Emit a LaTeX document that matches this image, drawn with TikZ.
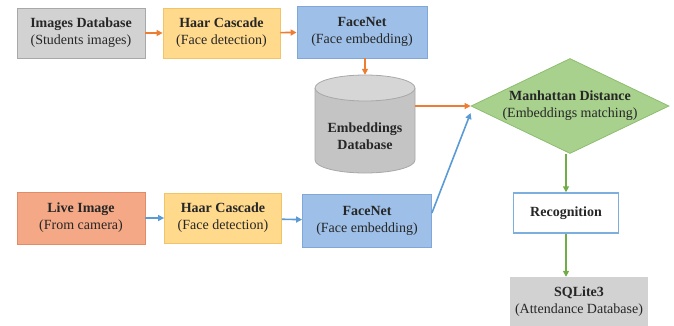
\documentclass[tikz,border=0pt]{standalone}
\usepackage{fontspec}
\setmainfont{Liberation Serif}
\usetikzlibrary{arrows.meta,shapes.geometric,calc}
\definecolor{grayfill}{HTML}{D2D2D2}
\definecolor{grayline}{HTML}{A8A8A8}
\definecolor{cylbody}{HTML}{C4C4C4}
\definecolor{cyltop}{HTML}{D6D6D6}
\definecolor{yelfill}{HTML}{FFD98C}
\definecolor{yelline}{HTML}{F2C46A}
\definecolor{bluefill}{HTML}{9EC0E8}
\definecolor{blueline}{HTML}{7FA7D8}
\definecolor{salfill}{HTML}{F4A886}
\definecolor{salline}{HTML}{E08C68}
\definecolor{grnfill}{HTML}{A9D18E}
\definecolor{grnline}{HTML}{8DBD6E}
\definecolor{orarrow}{HTML}{ED7D31}
\definecolor{bluarrow}{HTML}{5B9BD5}
\definecolor{grnarrow}{HTML}{70AD47}
\definecolor{txt}{HTML}{262626}
\begin{document}
\begin{tikzpicture}[x=1pt,y=-1pt,
  every node/.style={font=\rmfamily\fontsize{14}{17}\selectfont, text=txt, align=center},
  box/.style={rectangle, draw, line width=0.8pt, inner sep=0pt},
  graybox/.style={box, fill=grayfill, draw=grayline},
  yelbox/.style={box, fill=yelfill, draw=yelline},
  bluebox/.style={box, fill=bluefill, draw=blueline},
  salbox/.style={box, fill=salfill, draw=salline},
  arr/.style={line width=1.6pt, -{Triangle[length=6pt,width=6pt]}},
  oarr/.style={arr, draw=orarrow},
  barr/.style={arr, draw=bluarrow},
  garr/.style={arr, draw=grnarrow}]
\useasboundingbox (0,0) rectangle (674,325);
% top row
\node[graybox, minimum width=128pt, minimum height=50pt] (img) at (81,33) {\textbf{Images Database}\\(Students images)};
\node[yelbox, minimum width=117pt, minimum height=50pt] (haar1) at (221.5,33) {\textbf{Haar Cascade}\\(Face detection)};
\node[bluebox, minimum width=130pt, minimum height=52pt] (fn1) at (362,32) {\textbf{FaceNet}\\(Face embedding)};
% cylinder (drawn shape, named bounding node)
\node[inner sep=0pt, minimum width=100pt, minimum height=98pt] (cyl) at (365,124) {};
\filldraw[fill=cylbody, draw=grayline, line width=0.8pt]
  (315,88) -- (315,160) arc[start angle=180, end angle=360, x radius=50pt, y radius=13pt] -- (415,88);
\filldraw[fill=cyltop, draw=grayline, line width=0.8pt] (365,88) ellipse[x radius=50pt, y radius=13pt];
\node[font=\rmfamily\bfseries\fontsize{14}{17}\selectfont] (cyltxt) at (365,136) {Embeddings\\Database};
% diamond
\node[diamond, aspect=2.08, fill=grnfill, draw=grnline, line width=0.8pt, inner sep=0pt,
  minimum width=198pt, minimum height=95pt] (dia) at (570,106) {\textbf{Manhattan Distance}\\(Embeddings matching)};
% bottom row
\node[salbox, minimum width=128pt, minimum height=52pt] (live) at (81,218) {\textbf{Live Image}\\(From camera)};
\node[yelbox, minimum width=117pt, minimum height=50pt] (haar2) at (223,218) {\textbf{Haar Cascade}\\(Face detection)};
\node[bluebox, minimum width=129pt, minimum height=53pt] (fn2) at (367,221) {\textbf{FaceNet}\\(Face embedding)};
% right column
\node[box, fill=white, draw=bluarrow!80, line width=1.4pt, minimum width=105pt, minimum height=40pt] (rec) at (566,213) {\textbf{Recognition}};
\node[rectangle, fill=grayfill, inner sep=0pt, minimum width=138pt, minimum height=50pt] (sql) at (579,302) {\textbf{SQLite3}\\(Attendance Database)};
% arrows
\draw[oarr] (img) -- (haar1);
\draw[oarr] (haar1) -- (fn1);
\draw[oarr] (fn1.south -| cyl.north) -- (cyl.north);
\draw[oarr] (cyl.east |- dia.west) -- (dia.west);
\draw[barr] (live) -- (haar2);
\draw[barr] (haar2) -- (fn2);
\draw[barr] ([yshift=8pt]fn2.east) -- ([yshift=-7pt]dia.west);
\draw[garr] (dia.south -| rec.north) -- (rec.north);
\draw[garr] (rec.south) -- (rec.south |- sql.north);
\end{tikzpicture}
\end{document}
